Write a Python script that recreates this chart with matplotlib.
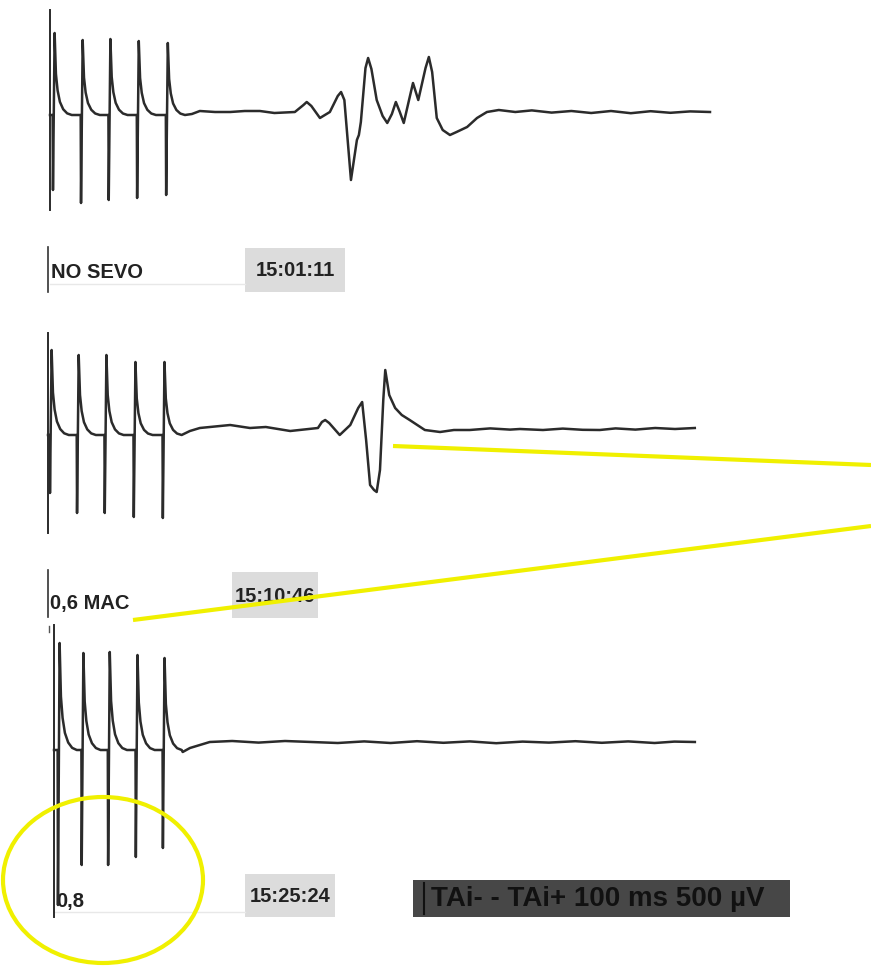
import matplotlib.pyplot as plt
from matplotlib.patches import Ellipse, Rectangle

W, H = 871, 966
PX_PER_MS = 6.6      # horizontal sweep scale
UV_PER_PX = 5.0      # vertical gain

labels = ['NO SEVO', '0,6 MAC', '0,8']
clock = ['15:01:11', '15:10:46', '15:25:24']
calib = 'TAi- - TAi+ 100 ms 500 µV'

# stimulus train: pulse times (ms), peak / trough (µV), level between pulses
pulse_t = [[0.45, 4.7, 8.9, 13.2, 17.6],
           [0.3, 4.4, 8.6, 13.0, 17.4],
           [0.6, 4.2, 8.2, 12.4, 16.5]]
pulse_peak = [[395, 360, 365, 355, 345],
              [390, 365, 365, 330, 330],
              [495, 445, 450, 435, 420]]
pulse_trough = [[-390, -455, -440, -430, -415],
                [-325, -425, -425, -445, -450],
                [-815, -615, -615, -575, -530]]
pulse_level = [-15, -35, -40]

# artefact tail after each pulse: delay after peak (ms), part of peak left
decay_dt = [0.2, 0.45, 0.8, 1.3, 1.9, 2.6]
decay_frac = [0.5, 0.3, 0.16, 0.07, 0.02, 0.0]

# muscle responses after the train (ms, µV)
resp_t = [
    [21.5, 22.7, 25.0, 27.3, 29.5, 31.8, 34.0, 37.1, 38.4, 38.9, 39.6, 40.9,
     42.4, 43.6, 44.1, 44.6, 45.6, 46.5, 46.8, 47.1, 47.8, 48.2, 48.7, 49.5,
     50.4, 51.1, 51.8, 52.4, 53.0, 53.6, 54.4, 55.0, 55.8, 56.9, 57.4, 57.9,
     58.6, 59.5, 60.6, 61.6, 63.2, 64.7, 66.2, 68.0, 70.5, 73.0, 76.0, 79.0,
     82.0, 85.0, 88.0, 91.0, 94.0, 97.0, 100.0],
    [21.5, 23.0, 27.6, 30.6, 33.0, 36.7, 40.9, 41.5, 42.0, 42.6, 44.2, 45.8,
     47.0, 47.6, 48.2, 48.8, 49.4, 49.8, 50.3, 50.8, 51.1, 51.7, 52.6, 53.6,
     54.8, 57.1, 59.4, 61.5, 63.9, 67.0, 70.0, 71.5, 75.0, 78.0, 81.0, 83.6,
     86.0, 89.0, 92.0, 95.0, 98.0],
    [19.5, 20.6, 23.6, 27.0, 31.0, 35.0, 39.0, 43.0, 47.0, 51.0, 55.0, 59.0,
     63.0, 67.0, 71.0, 75.0, 79.0, 83.0, 87.0, 91.0, 94.0, 97.1],
]
resp_v = [
    [-10, 5, 0, 0, 5, 5, -5, 0, 35, 50, 30, -30,
     0, 80, 100, 60, -340, -140, -115, -50, 220, 270, 215, 60,
     -20, -55, -10, 50, 0, -55, 60, 145, 60, 220, 275, 200,
     -30, -90, -115, -100, -75, -30, 0, 10, 0, 8, -3, 5,
     -5, 5, -6, 4, -4, 3, 0],
    [-15, 0, 15, 0, 5, -15, 0, 30, 40, 25, -35, 15,
     100, 130, -60, -285, -310, -320, -210, 140, 290, 165, 100, 65,
     40, -10, -20, -10, -10, -2, -8, -5, -10, -3, -9, -10,
     -2, -8, 0, -5, 0],
    [-50, -30, 0, 5, -3, 5, 0, -5, 3, -5, 4, -4,
     3, -6, 2, -3, 4, -4, 3, -5, 2, 0],
]

# sweep start (px) and baseline row (px) of each trace
x0_px = [50, 48, 54]
base_px = [112, 428, 742]
sweep_top = [510, 475, 585]
sweep_bot = [-490, -525, -875]

fig = plt.figure(figsize=(W / 100, H / 100), dpi=100)
fig.patch.set_facecolor('white')

# text, boxes and label marks in pixel units
deco = fig.add_axes([0, 0, 1, 1])
deco.set_xlim(0, W)
deco.set_ylim(H, 0)
deco.axis('off')

font = dict(family=['Liberation Sans', 'DejaVu Sans'], weight='bold')

deco.plot([50, 245], [284, 284], color='#e8e8e8', lw=1)
deco.plot([54, 245], [912, 912], color='#e8e8e8', lw=1)
deco.plot([48, 48], [247, 292], color='#333333', lw=1.2)
deco.plot([48, 48], [570, 617], color='#333333', lw=1.2)
deco.plot([49, 49], [626, 632], color='#555555', lw=1)

label_xy = [(51, 272), (50, 603), (56, 901)]
for txt, (x, y) in zip(labels, label_xy):
    deco.text(x, y, txt, fontsize=14.5, color='#222222', ha='left', va='center', **font)

box_xy = [(245, 248, 100, 44), (232, 572, 86, 46), (245, 874, 90, 43)]
for txt, (x, y, w, h) in zip(clock, box_xy):
    deco.add_patch(Rectangle((x, y), w, h, facecolor='#dcdcdc', edgecolor='none'))
    deco.text(x + w / 2, y + h / 2 + 1, txt, fontsize=14.5, color='#222222',
              ha='center', va='center', **font)

deco.add_patch(Rectangle((413, 880), 377, 37, facecolor='#474747', edgecolor='none'))
deco.plot([424, 424], [883, 914], color='#111111', lw=1.5)
deco.text(431, 899, calib, fontsize=20, color='#111111', ha='left', va='center', **font)

# the three evoked-potential sweeps
for i in range(3):
    ax = fig.add_axes([0, 0, 1, 1])
    ax.patch.set_alpha(0)
    ax.set_xlim(-x0_px[i] / PX_PER_MS, (W - x0_px[i]) / PX_PER_MS)
    ax.set_ylim((base_px[i] - H) * UV_PER_PX, base_px[i] * UV_PER_PX)
    ax.axis('off')

    lvl = pulse_level[i]
    xs, ys = [0.0], [lvl]
    for t, p, tr in zip(pulse_t[i], pulse_peak[i], pulse_trough[i]):
        xs += [t - 0.05, t, t + 0.25]
        ys += [lvl, tr, p]
        for dt, f in zip(decay_dt, decay_frac):
            xs.append(t + 0.25 + dt)
            ys.append(lvl + f * (p - lvl))
    xs += resp_t[i]
    ys += resp_v[i]

    ax.plot([0, 0], [sweep_bot[i], sweep_top[i]], color='#2b2b2b', lw=1.4)
    ax.plot(xs, ys, color='#2b2b2b', lw=1.8, solid_joinstyle='round')

# yellow highlights on top
over = fig.add_axes([0, 0, 1, 1])
over.patch.set_alpha(0)
over.set_xlim(0, W)
over.set_ylim(H, 0)
over.axis('off')
yellow = '#f0f000'
over.plot([393, 871], [446, 465], color=yellow, lw=3, solid_capstyle='butt')
over.plot([133, 871], [620, 526], color=yellow, lw=3, solid_capstyle='butt')
over.add_patch(Ellipse((103, 880), 200, 166, facecolor='none', edgecolor=yellow, lw=3))

fig.savefig('out.png', dpi=100)
